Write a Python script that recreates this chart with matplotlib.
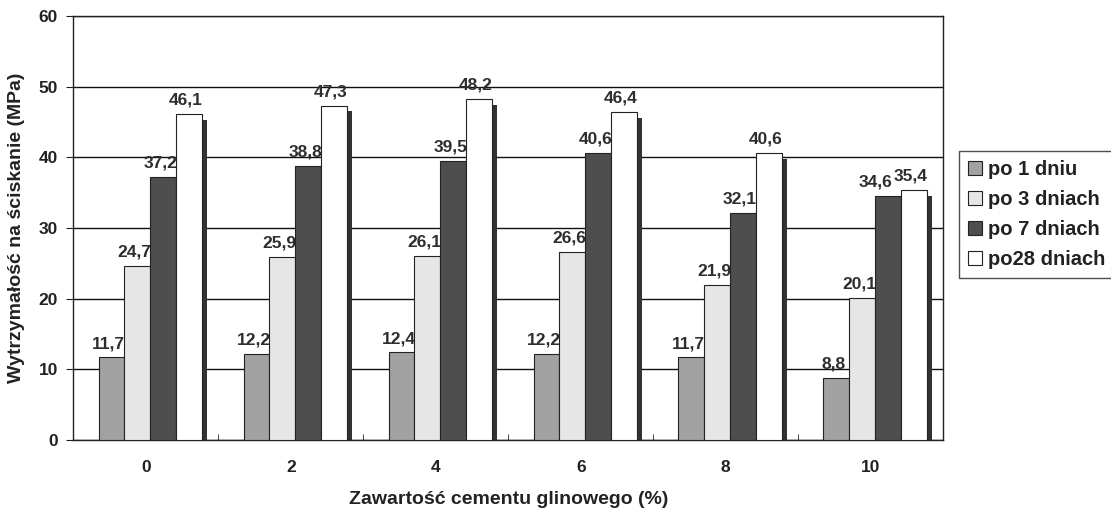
import numpy as np
import matplotlib.pyplot as plt
from matplotlib.patches import Patch

plt.rcParams['font.family'] = ['Liberation Sans', 'DejaVu Sans']
plt.rcParams['font.weight'] = 'bold'

categories = ['0', '2', '4', '6', '8', '10']
series = ['po 1 dniu', 'po 3 dniach', 'po 7 dniach', 'po28 dniach']
day1 = [11.7, 12.2, 12.4, 12.2, 11.7, 8.8]
day3 = [24.7, 25.9, 26.1, 26.6, 21.9, 20.1]
day7 = [37.2, 38.8, 39.5, 40.6, 32.1, 34.6]
day28 = [46.1, 47.3, 48.2, 46.4, 40.6, 35.4]
labels = [['11,7', '12,2', '12,4', '12,2', '11,7', '8,8'],
          ['24,7', '25,9', '26,1', '26,6', '21,9', '20,1'],
          ['37,2', '38,8', '39,5', '40,6', '32,1', '34,6'],
          ['46,1', '47,3', '48,2', '46,4', '40,6', '35,4']]

colors = ['#a2a2a2', '#e6e6e6', '#4e4e4e', '#ffffff']
text_col = '#2e2e2e'

fig = plt.figure(figsize=(11.11, 5.13), dpi=100)
ax = fig.add_axes([0.066, 0.142, 0.783, 0.827])

x = np.arange(len(categories))
w = 0.178
shift = 0.03
texts = [[None] * len(categories) for _ in series]
for i, vals in enumerate([day1, day3, day7, day28]):
    pos = x + shift + (i - 1.5) * w
    # labels sit behind the following bars, as in the original
    ax.bar(pos, vals, width=w, color=colors[i], edgecolor='#222222',
           linewidth=0.8, zorder=3 + i)
    for j, (p, v, t) in enumerate(zip(pos, vals, labels[i])):
        texts[i][j] = ax.text(p - 0.02, v + 0.9, t, ha='center', va='bottom',
                              fontsize=12.5, color=text_col, fontweight='bold',
                              zorder=3.5 + i)
    if i == 3:
        # dark side face of the last bar
        ax.bar(pos + w / 2 + 0.017, np.array(vals) - 0.8, width=0.034,
               color='#333333', linewidth=0, zorder=2)

ax.set_xlim(-0.5, 5.5)
ax.set_ylim(0, 60)
ax.set_yticks(range(0, 61, 10))
ax.set_xticks(x)
ax.set_xticklabels(categories)
ax.set_xticks(np.arange(0.5, 5, 1), minor=True)
ax.yaxis.grid(True, color='#111111', linewidth=1.0, zorder=0)
ax.set_axisbelow(True)
ax.tick_params(axis='both', labelsize=12.5, colors='#222222', length=0, pad=14)
ax.tick_params(axis='y', length=5, pad=6)
ax.tick_params(axis='x', which='minor', direction='in', length=4, color='#222222')
for s in ax.spines.values():
    s.set_color('#222222')
    s.set_linewidth(1.0)

ax.set_xlabel('Zawartość cementu glinowego (%)', fontsize=14, fontweight='bold',
              color='#222222', labelpad=12)
ax.set_ylabel('Wytrzymałość na ściskanie (MPa)', fontsize=14, fontweight='bold',
              color='#222222', labelpad=10)

handles = [Patch(facecolor=c, edgecolor='#222222', linewidth=0.8) for c in colors]
leg = fig.legend(handles, series, loc='upper left', bbox_to_anchor=(0.863, 0.706),
                 fontsize=14.5, frameon=True, fancybox=False, edgecolor='#222222',
                 handlelength=0.7, handleheight=0.7, handletextpad=0.3,
                 labelspacing=0.55, borderpad=0.45, borderaxespad=0)
leg.get_frame().set_linewidth(1.0)
for t in leg.get_texts():
    t.set_fontweight('bold')
    t.set_color('#222222')

# nudge a value label left when it runs into its right-hand neighbour
fig.canvas.draw()
r = fig.canvas.get_renderer()
inv = ax.transData.inverted()
for j in range(len(categories)):
    for i in range(len(series) - 2, -1, -1):
        a = texts[i][j].get_window_extent(r)
        b = texts[i + 1][j].get_window_extent(r)
        if a.overlaps(b):
            dx_px = a.x1 - b.x0 + 2
            x0, y0 = texts[i][j].get_position()
            disp = ax.transData.transform((x0, y0))
            texts[i][j].set_position(inv.transform((disp[0] - dx_px, disp[1])))

fig.savefig('out.png', dpi=100)
